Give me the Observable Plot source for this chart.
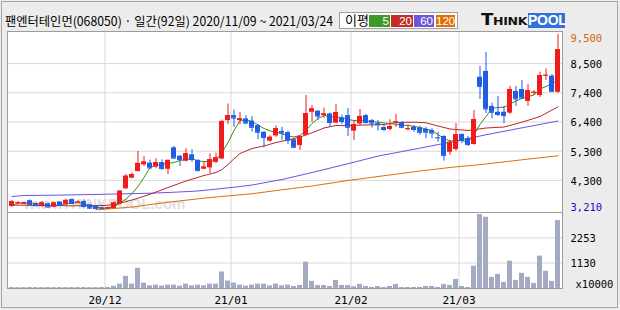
<!DOCTYPE html>
<html><head><meta charset="utf-8">
<script src="https://cdn.jsdelivr.net/npm/d3@7"></script>
<script src="https://cdn.jsdelivr.net/npm/@observablehq/plot@0.6"></script>
<style>
html,body{margin:0;padding:0;background:#ececec;}
#wrap{position:relative;width:620px;height:310px;background:#ececec;overflow:hidden;}
#border{position:absolute;left:1px;top:1px;width:615px;height:305px;border:1px solid #a6a6a6;}
#title{position:absolute;left:5px;top:13px;font:12.5px "Noto Sans CJK KR";color:#000;white-space:nowrap;transform-origin:0 50%;line-height:16px;}
#legend{position:absolute;left:339px;top:12px;width:117px;height:15px;border:1px solid #a0a0a0;background:#fff;}
#legend .lbl{position:absolute;left:5px;top:-1px;font:13px "Noto Sans CJK KR";color:#000;line-height:16px;}
#legend .sw{position:absolute;top:2px;height:12px;color:#fff;font:11.5px "Liberation Sans";line-height:12px;text-align:right;box-sizing:border-box;padding-right:1px;overflow:hidden;white-space:nowrap;}
#logo{position:absolute;left:481px;top:13px;height:15px;white-space:nowrap;}
#logo .think{position:absolute;left:0;top:-2px;font:900 16px "DejaVu Sans";font-variant:small-caps;color:#111;letter-spacing:-0.3px;line-height:18px;transform-origin:0 50%;}
#logo .pool{position:absolute;left:47px;top:0;width:37px;height:15px;background:#3370dc;color:#fff;font:bold 14px "Liberation Sans";line-height:15px;text-align:center;letter-spacing:-0.3px;}
#price,#vol{position:absolute;left:0;}
#price{top:0;}
#vol{top:212px;}
</style></head><body>
<div id="wrap">
  <div id="border"></div>
  <div id="price"></div>
  <div id="vol"></div>
  <div id="title">팬엔터테인먼(068050) · 일간(92일) 2020/11/09 ~ 2021/03/24</div>
  <div id="legend">
    <span class="lbl">이평</span>
    <span class="sw" style="left:29px;width:21px;background:#3e9a26">5</span>
    <span class="sw" style="left:51px;width:22px;background:#c42c2a">20</span>
    <span class="sw" style="left:74px;width:20px;background:#6a58d8">60</span>
    <span class="sw" style="left:96px;width:19px;background:#e07000">120</span>
  </div>
  <div id="logo"><span class="think" id="think">Think</span><span class="pool">POOL</span></div>
</div>
<script>
// ---- data ----
const dates = ("2020-11-09 2020-11-10 2020-11-11 2020-11-12 2020-11-13 2020-11-16 2020-11-17 2020-11-18 2020-11-19 2020-11-20 2020-11-23 2020-11-24 2020-11-25 2020-11-26 2020-11-27 2020-11-30 " +
  "2020-12-01 2020-12-02 2020-12-03 2020-12-04 2020-12-07 2020-12-08 2020-12-09 2020-12-10 2020-12-11 2020-12-14 2020-12-15 2020-12-16 2020-12-17 2020-12-18 2020-12-21 2020-12-22 2020-12-23 2020-12-24 2020-12-28 2020-12-29 2020-12-30 " +
  "2021-01-04 2021-01-05 2021-01-06 2021-01-07 2021-01-08 2021-01-11 2021-01-12 2021-01-13 2021-01-14 2021-01-15 2021-01-18 2021-01-19 2021-01-20 2021-01-21 2021-01-22 2021-01-25 2021-01-26 2021-01-27 2021-01-28 2021-01-29 " +
  "2021-02-01 2021-02-02 2021-02-03 2021-02-04 2021-02-05 2021-02-08 2021-02-09 2021-02-10 2021-02-15 2021-02-16 2021-02-17 2021-02-18 2021-02-19 2021-02-22 2021-02-23 2021-02-24 2021-02-25 2021-02-26 " +
  "2021-03-02 2021-03-03 2021-03-04 2021-03-05 2021-03-08 2021-03-09 2021-03-10 2021-03-11 2021-03-12 2021-03-15 2021-03-16 2021-03-17 2021-03-18 2021-03-19 2021-03-22 2021-03-23 2021-03-24").split(" ");

const open = [3310,3440,3390,3520,3410,3320,3410,3290,3470,3390,3560,3450,3490,3370,3310,3260,3230,3240,3400,3950,4330,4570,4810,4870,4730,4890,4650,5420,5120,4940,5170,4970,4650,4700,4900,5020,6400,6580,6400,6460,6380,6220,5980,5660,5850,6010,5970,5710,5500,5870,6700,6740,6580,6640,6310,6490,6580,6020,6280,6580,6400,6290,6150,6080,6340,6320,6080,6160,6140,6080,6040,5790,5830,5260,5360,5900,5750,5540,7960,8170,6910,6700,6700,6670,7450,7520,7090,7400,7300,8010,8000,7420];
const high = [3530,3490,3470,3550,3440,3490,3430,3470,3490,3570,3590,3530,3540,3400,3350,3300,3290,3480,3890,4460,4510,5290,5110,4980,5030,4990,4980,5470,5150,5390,5360,4990,4900,5200,5230,6420,7000,6780,6690,6580,6550,6260,6000,5850,6210,6160,6020,5740,5850,7300,6940,6760,6850,6670,6980,6600,6840,6400,6800,6620,6440,6400,6220,6430,6620,6370,6250,6220,6200,6160,6110,5980,5850,5690,6290,5930,5830,6760,8350,8850,7030,7270,6910,7630,7630,7840,7700,7480,8140,8260,8060,9500];
const low = [3280,3370,3380,3350,3320,3280,3270,3270,3330,3350,3400,3420,3260,3230,3220,3210,3215,3220,3390,3920,4310,4550,4750,4630,4670,4610,4460,5020,4750,4920,4900,4570,4640,4500,4850,4990,6260,6160,6250,6250,5980,5720,5420,5620,5800,5690,5540,5390,5330,5850,6340,6400,6470,6160,6290,6260,5830,5690,6220,6280,6130,6020,6010,6030,6160,6110,6020,5980,5870,5750,5750,5620,4940,5150,5300,5570,5470,5520,7160,6650,6470,6550,6290,6620,6910,7150,6910,7300,7230,7840,7410,7380];
const close = [3490,3450,3440,3380,3340,3440,3290,3440,3350,3520,3420,3470,3310,3250,3240,3230,3260,3440,3860,4400,4460,4860,4910,4700,4890,4680,4970,5050,5000,5210,5000,4600,4730,5000,5060,6370,6580,6490,6470,6310,6160,5980,5790,5800,6110,5950,5690,5440,5830,6650,6820,6560,6640,6330,6690,6370,6160,6260,6550,6330,6310,6250,6080,6190,6360,6160,6110,6080,5980,5980,5950,5780,5150,5620,5900,5690,5540,6440,7630,6820,6700,6620,6580,7520,7180,7210,7480,7420,8020,8030,7450,8950];
// volume, in units of 10,000 shares
const volume = [40,38,40,42,38,40,42,38,40,42,40,38,42,40,40,42,45,100,195,540,195,900,240,120,150,105,150,150,105,195,120,150,120,195,195,735,330,240,150,105,150,195,195,120,195,120,150,90,135,1170,315,135,135,90,360,135,135,75,180,90,45,90,45,90,180,45,45,45,45,90,90,45,180,135,405,90,45,990,3290,3170,495,630,270,1215,360,675,495,225,1440,765,315,3020];

// moving averages
const ma5 = [3347,3437,3437,3437,3419,3383,3347,3329,3365,3401,3437,3455,3401,3347,3293,3257,3250,3311,3419,3581,3779,4030,4354,4714,4786,4840,4858,4894,4965,5001,5037,4947,4929,4929,4983,5250,5613,6044,6404,6422,6368,6242,6116,6026,5990,5926,5846,5811,5865,6044,6296,6476,6584,6548,6530,6512,6440,6404,6404,6386,6368,6343,6314,6289,6267,6242,6224,6195,6152,6098,6044,5900,5757,5667,5667,5685,5623,5900,6260,6548,6835,6871,6882,6997,7105,7202,7267,7321,7537,7626,7716,7878];
// [trading-day index, value]
const ma20 = [[0,3365],[5,3347],[10,3336],[15,3347],[17,3372],[20,3545],[23,3750],[26,3994],[29,4228],[32,4426],[34,4534],[35,4642],[36,4822],[37,5026],[38,5217],[40,5397],[42,5487],[44,5613],[46,5703],[48,5811],[50,5962],[52,6134],[54,6224],[56,6224],[59,6242],[62,6260],[64,6332],[67,6343],[69,6321],[71,6206],[73,6098],[76,6044],[79,6134],[82,6170],[85,6343],[88,6548],[91,6896]];
const ma60 = [[0,3671],[2,3707],[7,3718],[15,3750],[23,3789],[27,3825],[31,3869],[37,4005],[40,4084],[45,4282],[50,4534],[56,4850],[61,5124],[68,5410],[73,5623],[79,5890],[85,6141],[91,6386]];
const ma120 = [[14,3193],[17,3240],[20,3293],[26,3466],[33,3635],[40,3771],[45,3912],[50,4049],[56,4246],[61,4390],[68,4588],[73,4714],[79,4840],[85,4991],[91,5134]];

const priceTicks = [8450, 7400, 6350, 5300, 4250];
const priceTickLabels = ["8,500", "7,400", "6,400", "5,300", "4,300"];
const volTicks = [2253, 1130];
const volTickLabels = ["2253", "1130"];
const monthLabels = ["20/12", "21/01", "21/02", "21/03"];

// ---- derived ----
const candles = dates.map((d, i) => ({i, d, o: open[i], h: high[i], l: low[i], c: close[i], v: volume[i], m5: ma5[i]}));
const up = candles.filter(d => d.c >= d.o);
const dn = candles.filter(d => d.c < d.o);
const monthTicks = [];
dates.forEach((d, i) => { if (i > 0 && d.slice(0, 7) !== dates[i - 1].slice(0, 7)) monthTicks.push(i - 0.5); });
const iMax = d3.maxIndex(high), iMin = d3.minIndex(low);
const fmt = d3.format(",");

const RED = "#f01c1c", BLUE = "#1f5de4", GRID = "#d9d9d9", FRAME = "#9c9c9c";
const half = 5 / 12;
const xScale = {domain: [-0.75, dates.length - 0.25], axis: null};
const font = {fontFamily: "DejaVu Sans Mono", fontSize: "10.5px", background: "transparent", overflow: "visible"};

const price = Plot.plot({
  width: 620, height: 213, marginTop: 31, marginBottom: 1, marginLeft: 7, marginRight: 58,
  x: xScale,
  y: {domain: [3096, 9604], axis: null},
  style: font,
  marks: [
    Plot.frame({fill: "white", stroke: "none"}),
    Plot.ruleY(priceTicks, {y: d => d, stroke: GRID}),
    Plot.ruleX(monthTicks, {x: d => d, stroke: GRID}),
    Plot.text(["www.THINKPOOL.com"], {frameAnchor: "bottom-left", dx: 16, dy: -4, lineAnchor: "bottom", textAnchor: "start", fill: "#e0e0e0", fontSize: 15, fontWeight: "bold", fontFamily: "Liberation Sans"}),
    Plot.line(ma120, {x: d => d[0], y: d => d[1], stroke: "#d9700a", strokeWidth: 1}),
    Plot.line(ma60, {x: d => d[0], y: d => d[1], stroke: "#6b54e0", strokeWidth: 1}),
    Plot.line(ma20, {x: d => d[0], y: d => d[1], stroke: "#b8282b", strokeWidth: 1}),
    Plot.line(candles, {x: "i", y: "m5", stroke: "#3d8c1c", strokeWidth: 1}),
    Plot.ruleX(up, {x: "i", y1: "l", y2: "h", stroke: RED}),
    Plot.ruleX(dn, {x: "i", y1: "l", y2: "h", stroke: BLUE}),
    Plot.rect(up, {x1: d => d.i - half, x2: d => d.i + half, y1: "o", y2: "c", fill: RED}),
    Plot.rect(dn, {x1: d => d.i - half, x2: d => d.i + half, y1: "o", y2: "c", fill: BLUE}),
    Plot.ruleY(up, {x1: d => d.i - half, x2: d => d.i + half, y: "c", stroke: RED}),
    Plot.ruleY(dn, {x1: d => d.i - half, x2: d => d.i + half, y: "c", stroke: BLUE}),
    Plot.text(priceTicks, {y: d => d, text: (d, i) => priceTickLabels[i], frameAnchor: "right", dx: 8, dy: 1, textAnchor: "start", fill: "#000"}),
    Plot.text([high[iMax]], {y: d => d, text: d => fmt(d), frameAnchor: "right", dx: 8, dy: 4, textAnchor: "start", fill: "#cc6a10"}),
    Plot.text([low[iMin]], {y: d => d, text: d => fmt(d), frameAnchor: "right", dx: 8, dy: -2, textAnchor: "start", fill: "#1010c8"}),
    Plot.frame({stroke: FRAME})
  ]
});
document.getElementById("price").appendChild(price);

const vol = Plot.plot({
  width: 620, height: 98, marginTop: 0, marginBottom: 22, marginLeft: 7, marginRight: 58,
  x: xScale,
  y: {domain: [0, 3380], axis: null},
  style: font,
  marks: [
    Plot.frame({fill: "white", stroke: "none"}),
    Plot.ruleY(volTicks, {y: d => d, stroke: GRID}),
    Plot.ruleX(monthTicks, {x: d => d, stroke: GRID}),
    Plot.rect(candles, {x1: d => d.i - half, x2: d => d.i + half, y1: 0, y2: "v", fill: "#a3aac2"}),
    Plot.text(volTicks, {y: d => d, text: (d, i) => volTickLabels[i], frameAnchor: "right", dx: 8, dy: 1, textAnchor: "start", fill: "#000"}),
    Plot.text(["x10000"], {frameAnchor: "bottom-right", dx: 13, dy: -1, textAnchor: "start", fill: "#000"}),
    Plot.text(monthTicks, {x: d => d, text: (d, i) => monthLabels[i], frameAnchor: "bottom", dy: 15, fill: "#000", fontSize: 11}),
    Plot.frame({stroke: FRAME})
  ]
});
document.getElementById("vol").appendChild(vol);

// fit the title and logo word to their widths in the reference
function fitWidth(el, target) {
  const w = el.getBoundingClientRect().width;
  el.style.transform = `scaleX(${target / w})`;
}
fitWidth(document.getElementById("title"), 328);
fitWidth(document.getElementById("think"), 46);
</script>
</body></html>
